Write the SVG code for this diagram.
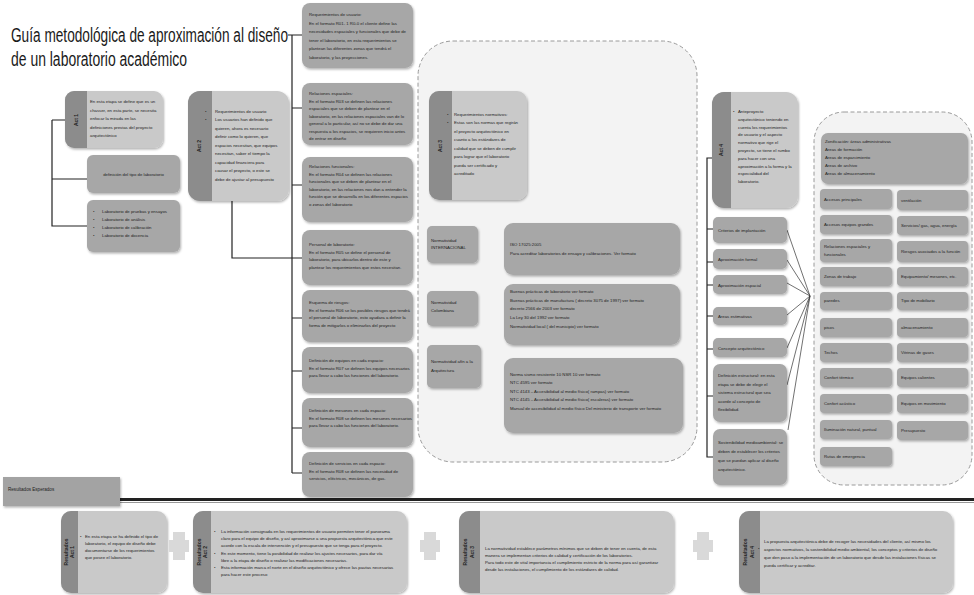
<svg xmlns="http://www.w3.org/2000/svg" width="974" height="595" viewBox="0 0 974 595">
<defs>
<filter id="sh" x="-10%" y="-10%" width="130%" height="130%"><feDropShadow dx="1" dy="1.5" stdDeviation="1.2" flood-color="#000" flood-opacity="0.3"/></filter>
</defs>
<style>
text{font-family:"Liberation Sans",Arial,sans-serif;fill:#222}
.t{font-size:4.3px}
.s{font-size:4.6px}
.lab{font-size:5px;font-weight:bold}
.title{font-size:20px;fill:#1a1a1a}
.body{fill:#c9c9c9;filter:url(#sh)}
.tab{fill:#8c8c8c}
.bx{fill:#a7a7a7;filter:url(#sh)}
.dash{fill:#f3f3f3;stroke:#9a9a9a;stroke-width:1;stroke-dasharray:4 2.5}
.ln{fill:none;stroke:#222;stroke-width:1.2}
.fan{fill:none;stroke:#333;stroke-width:0.7}
.plus{fill:#d9d9d9}
</style>
<rect width="974" height="595" fill="#fff"/>

<g id="title">
<text class="title" x="11" y="42" textLength="277" lengthAdjust="spacingAndGlyphs">Guía metodológica de aproximación al diseño</text>
<text class="title" x="11" y="66" textLength="176" lengthAdjust="spacingAndGlyphs">de un laboratorio  académico</text>
</g>

<g id="connectors">
<path class="ln" d="M52 120 H65 M52 120 V226 H87 M52 179 H87"/>
<path class="ln" d="M232 201 V258 H302"/>
<path class="ln" d="M288 35 H302 M292 35 V473 M292 108 H302 M292 185 H302 M292 318 H302 M292 371 H302 M292 428 H302 M292 473 H302"/>
<path class="ln" d="M429 146 H422 V372 H427 M422 243 H427 M422 300 H427"/>
<path class="ln" d="M712 158 H707 V457 H713 M707 229 H713 M707 262 H713 M707 285 H713 M707 316 H713 M707 349 H713 M707 396 H713"/>
<path class="fan" d="M787 230 L810 296 M787 260 L810 296 M787 283 L810 296 M787 315 L810 296 M787 348 L810 296 M787 385 L810 296 M788 430 L810 296"/>
<path d="M120 499.5 H974" stroke="#222" stroke-width="3"/>
<path d="M120 502.5 H974" stroke="#999" stroke-width="1"/>
</g>

<g id="act1">
<rect class="body" x="65" y="91" width="98" height="57" rx="9"/>
<path class="tab" d="M74 91 H87 V148 H74 A9 9 0 0 1 65 139 V100 A9 9 0 0 1 74 91 Z"/>
<text class="lab" transform="translate(78,120) rotate(-90)" text-anchor="middle">Act 1</text>
<text class="t" x="90" y="103">En esta etapa se define que es un</text>
<text class="t" x="90" y="111.5">chasser, en esta parte, se necesita</text>
<text class="t" x="90" y="120">enfocar la mirada en las</text>
<text class="t" x="90" y="128.5">definiciones previas del proyecto</text>
<text class="t" x="90" y="137">arquitectónico</text>
</g>

<g id="tipo">
<rect class="bx" x="87" y="155" width="93" height="38" rx="6"/>
<text class="t" x="133.5" y="176" text-anchor="middle">definición del tipo de laboratorio</text>
</g>

<g id="tipos-lista">
<rect class="bx" x="87" y="200" width="93" height="52" rx="6"/>
<text class="t" x="93" y="213">•</text><text class="t" x="102" y="213">Laboratorio de pruebas y ensayos</text>
<text class="t" x="93" y="221">•</text><text class="t" x="102" y="221">Laboratorio de análisis</text>
<text class="t" x="93" y="229">•</text><text class="t" x="102" y="229">Laboratorio de calibración</text>
<text class="t" x="93" y="237">•</text><text class="t" x="102" y="237">Laboratorio de docencia</text>
</g>

<g id="act2">
<rect class="body" x="188" y="91" width="101" height="110" rx="12"/>
<path class="tab" d="M200 91 H212 V201 H200 A12 12 0 0 1 188 189 V103 A12 12 0 0 1 200 91 Z"/>
<text class="lab" transform="translate(201,146) rotate(-90)" text-anchor="middle">Act 2</text>
<text class="t" x="205" y="113">•</text><text class="t" x="215" y="113">Requerimientos de usuario</text>
<text class="t" x="205" y="121">•</text><text class="t" x="215" y="121">Los usuarios han definido que</text>
<text class="t" x="215" y="129.5">quieren, ahora es necesario</text>
<text class="t" x="215" y="138">definir como lo quieren, que</text>
<text class="t" x="215" y="146.5">espacios necesitan, que equipos</text>
<text class="t" x="215" y="155">necesitan, saber el tiempo la</text>
<text class="t" x="215" y="163.5">capacidad financiera para</text>
<text class="t" x="215" y="172">causar el proyecto, o este se</text>
<text class="t" x="215" y="180.5">debe de ajustar al presupuesto</text>
</g>

<g id="req-usuario">
<rect class="bx" x="302" y="3" width="111" height="65" rx="8"/>
<text class="t" x="309" y="16">Requerimientos de usuario:</text>
<text class="t" x="309" y="24.5">En el formato R01- 1 R0-0 el cliente define las</text>
<text class="t" x="309" y="33">necesidades espaciales y funcionales que debe de</text>
<text class="t" x="309" y="41.5">tener el laboratorio, en esta requerimientos se</text>
<text class="t" x="309" y="50">plantean las diferentes zonas que tendrá el</text>
<text class="t" x="309" y="58.5">laboratorio, y las proyecciones.</text>
</g>

<g id="rel-espaciales">
<rect class="bx" x="302" y="83" width="111" height="62" rx="8"/>
<text class="t" x="309" y="95">Relaciones espaciales:</text>
<text class="t" x="309" y="102.5">En el formato R03 se definen las relaciones</text>
<text class="t" x="309" y="110">espaciales que se deben de plantear en el</text>
<text class="t" x="309" y="117.5">laboratorio, en las relaciones espaciales van de lo</text>
<text class="t" x="309" y="125">general a lo particular, así no se debe de dar una</text>
<text class="t" x="309" y="132.5">respuesta a los espacios, se requieren inicio antes</text>
<text class="t" x="309" y="140">de entrar en diseño</text>
</g>

<g id="rel-funcionales">
<rect class="bx" x="302" y="157" width="111" height="65" rx="8"/>
<text class="t" x="309" y="168">Relaciones funcionales:</text>
<text class="t" x="309" y="175.5">En el formato R04 se definen las relaciones</text>
<text class="t" x="309" y="183">funcionales que se deben de plantear en el</text>
<text class="t" x="309" y="190.5">laboratorio, en las relaciones nos dan a entender la</text>
<text class="t" x="309" y="198">función que se desarrolla en los diferentes espacios</text>
<text class="t" x="309" y="205.5">o zonas del laboratorio</text>
</g>

<g id="personal">
<rect class="bx" x="302" y="230" width="111" height="55" rx="8"/>
<text class="t" x="309" y="246">Personal de laboratorio:</text>
<text class="t" x="309" y="253.5">En el formato R05 se define el personal de</text>
<text class="t" x="309" y="261">laboratorio, para ubicarlos dentro de este y</text>
<text class="t" x="309" y="268.5">plantear los requerimientos que estos necesitan.</text>
</g>

<g id="riesgos">
<rect class="bx" x="302" y="290" width="111" height="52" rx="8"/>
<text class="t" x="309" y="304">Esquema de riesgos:</text>
<text class="t" x="309" y="311.5">En el formato R06 se los posibles riesgos que tendrá</text>
<text class="t" x="309" y="319">el personal de laboratorio, esto ayudara a definir la</text>
<text class="t" x="309" y="326.5">forma de mitigarlos o eliminarlos del proyecto</text>
</g>

<g id="equipos">
<rect class="bx" x="302" y="347" width="111" height="46" rx="8"/>
<text class="t" x="309" y="362">Definición de equipos en cada espacio:</text>
<text class="t" x="309" y="369.5">En el formato R07 se definen los equipos necesarios</text>
<text class="t" x="309" y="377">para llevar a cabo las funciones del laboratorio.</text>
</g>

<g id="mesones">
<rect class="bx" x="302" y="398" width="111" height="49" rx="8"/>
<text class="t" x="309" y="412">Definición de mesones en cada espacio:</text>
<text class="t" x="309" y="419.5">En el formato R08 se definen los mesones necesarios</text>
<text class="t" x="309" y="427">para llevar a cabo las funciones del laboratorio.</text>
</g>

<g id="servicios">
<rect class="bx" x="302" y="452" width="111" height="45" rx="8"/>
<text class="t" x="309" y="465">Definición de servicios en cada espacio:</text>
<text class="t" x="309" y="472.5">En el formato R08 se definen las necesidad de</text>
<text class="t" x="309" y="480">servicios, eléctricos, mecánicos, de gas.</text>
</g>

<g id="zona-normativa">
<rect class="dash" x="418" y="41" width="279" height="421" rx="35"/>
</g>

<g id="act3">
<rect class="body" x="429" y="91" width="98" height="109" rx="10"/>
<path class="tab" d="M439 91 H452 V200 H439 A10 10 0 0 1 429 190 V101 A10 10 0 0 1 439 91 Z"/>
<text class="lab" transform="translate(442,146) rotate(-90)" text-anchor="middle">Act 3</text>
<text class="t" x="447" y="116">•</text><text class="t" x="454" y="116">Requerimientos normativos:</text>
<text class="t" x="447" y="124">•</text><text class="t" x="454" y="124">Estas son las normas que regirán</text>
<text class="t" x="454" y="132.5">el proyecto arquitectónico en</text>
<text class="t" x="454" y="141">cuanto a los estándares de</text>
<text class="t" x="454" y="149.5">calidad que se deben de cumplir</text>
<text class="t" x="454" y="158">para lograr que el laboratorio</text>
<text class="t" x="454" y="166.5">pueda ser certificado y</text>
<text class="t" x="454" y="175">acreditado</text>
</g>

<g id="norm-internacional">
<rect class="bx" x="427" y="226" width="51" height="37" rx="5"/>
<text class="t" x="431" y="242">Normatividad</text>
<text class="t" x="431" y="249">INTERNACIONAL</text>
</g>
<g id="norm-colombiana">
<rect class="bx" x="427" y="291" width="51" height="35" rx="5"/>
<text class="t" x="431" y="304">Normatividad</text>
<text class="t" x="431" y="312">Colombiana</text>
</g>
<g id="norm-arquitectura">
<rect class="bx" x="427" y="345" width="54" height="43" rx="5"/>
<text class="t" x="431" y="363">Normatividad afín a la</text>
<text class="t" x="431" y="372">Arquitectura</text>
</g>

<g id="iso">
<rect class="bx" x="504" y="223" width="176" height="52" rx="9"/>
<text class="t" x="510" y="246">ISO 17025:2005</text>
<text class="t" x="510" y="255">Para acreditar laboratorios de ensayo y calibraciones. Ver formato</text>
</g>
<g id="colombia-normas">
<rect class="bx" x="504" y="284" width="176" height="61" rx="9"/>
<text class="t" x="510" y="293">Buenas prácticas de laboratorio ver formato</text>
<text class="t" x="510" y="302">Buenas prácticas de manufactura ( decreto 3075 de 1997) ver formato</text>
<text class="t" x="510" y="310">decreto 2566 de 2003 ver formato</text>
<text class="t" x="510" y="319">La Ley 30 del 1992 ver formato</text>
<text class="t" x="510" y="328">Normatividad local ( del municipio)  ver formato</text>
</g>
<g id="arq-normas">
<rect class="bx" x="504" y="358" width="179" height="75" rx="9"/>
<text class="t" x="510" y="376">Norma sismo resistente 10 NSR 10 ver formato</text>
<text class="t" x="510" y="384">NTC 4595 ver formato</text>
<text class="t" x="510" y="392.5">NTC 4143 – Accesibilidad al medio físico( rampas) ver formato</text>
<text class="t" x="510" y="401">NTC 4145 – Accesibilidad al medio físico( escaleras) ver formato</text>
<text class="t" x="510" y="409.5">Manual de accesibilidad al medio físico Del ministerio de transporte ver formato</text>
</g>

<g id="act4">
<rect class="body" x="712" y="92" width="86" height="116" rx="12"/>
<path class="tab" d="M724 92 H731 V208 H724 A12 12 0 0 1 712 196 V104 A12 12 0 0 1 724 92 Z"/>
<text class="lab" transform="translate(723,150) rotate(-90)" text-anchor="middle">Act 4</text>
<text class="t" x="733" y="113">•</text>
<text class="t" x="738" y="113">Anteproyecto</text>
<text class="t" x="738" y="120.8">arquitectónico teniendo en</text>
<text class="t" x="738" y="128.6">cuenta los requerimientos</text>
<text class="t" x="738" y="136.4">de usuario y el aspecto</text>
<text class="t" x="738" y="144.2">normativo que rige el</text>
<text class="t" x="738" y="152">proyecto, se tiene el rumbo</text>
<text class="t" x="738" y="159.8">para hacer con una</text>
<text class="t" x="738" y="167.6">aproximación a la forma y la</text>
<text class="t" x="738" y="175.4">especialidad del</text>
<text class="t" x="738" y="183.2">laboratorio.</text>
</g>

<g id="criterios"><rect class="bx" x="713" y="217" width="74" height="26" rx="5"/><text class="t" x="718" y="232">Criterios de implantación</text></g>
<g id="aprox-formal"><rect class="bx" x="713" y="249" width="74" height="20" rx="5"/><text class="t" x="718" y="261">Aproximación formal</text></g>
<g id="aprox-espacial"><rect class="bx" x="713" y="275" width="74" height="19" rx="5"/><text class="t" x="718" y="287">Aproximación espacial</text></g>
<g id="areas"><rect class="bx" x="713" y="307" width="74" height="18" rx="5"/><text class="t" x="718" y="318">Áreas estimativas</text></g>
<g id="concepto"><rect class="bx" x="713" y="338" width="74" height="19" rx="5"/><text class="t" x="718" y="350">Concepto arquitectónico</text></g>
<g id="estructural">
<rect class="bx" x="713" y="364" width="74" height="58" rx="7"/>
<text class="t" x="718" y="377">Definición estructural: en esta</text>
<text class="t" x="718" y="385.5">etapa se debe de elegir el</text>
<text class="t" x="718" y="394">sistema estructural que sea</text>
<text class="t" x="718" y="402.5">acorde al concepto de</text>
<text class="t" x="718" y="411">flexibilidad.</text>
</g>
<g id="sostenibilidad">
<rect class="bx" x="713" y="429" width="74" height="56" rx="7"/>
<text class="t" x="718" y="444">Sostenibilidad medioambiental: se</text>
<text class="t" x="718" y="453">deben de establecer los criterios</text>
<text class="t" x="718" y="462">que se puedan aplicar al diseño</text>
<text class="t" x="718" y="471">arquitectónico.</text>
</g>

<g id="zona-criterios">
<rect class="dash" x="814" y="112" width="158" height="373" rx="30"/>
</g>
<g id="zonificacion">
<rect class="bx" x="821" y="133" width="147" height="51" rx="7"/>
<text class="t" x="825" y="143">Zonificación: áreas administrativas</text>
<text class="t" x="825" y="151">Áreas de formación</text>
<text class="t" x="825" y="159">Áreas de esparcimiento</text>
<text class="t" x="825" y="167">Áreas de archivo</text>
<text class="t" x="825" y="175">Áreas de almacenamiento</text>
</g>
<g id="grid">
<rect class="bx" x="820" y="189" width="72" height="20" rx="4"/><text class="t" x="824" y="201">Accesos principales</text>
<rect class="bx" x="897" y="190" width="71" height="20" rx="4"/><text class="t" x="901" y="202">ventilación</text>
<rect class="bx" x="820" y="215" width="72" height="19" rx="4"/><text class="t" x="824" y="226">Accesos equipos grandes</text>
<rect class="bx" x="897" y="216" width="71" height="19" rx="4"/><text class="t" x="901" y="227">Servicios/ gas, agua, energía</text>
<rect class="bx" x="820" y="239" width="72" height="23" rx="4"/><text class="t" x="824" y="248">Relaciones espaciales y</text><text class="t" x="824" y="256">funcionales</text>
<rect class="bx" x="897" y="241" width="71" height="21" rx="4"/><text class="t" x="901" y="253">Riesgos asociados a la función</text>
<rect class="bx" x="820" y="267" width="72" height="19" rx="4"/><text class="t" x="824" y="278">Zonas de trabajo</text>
<rect class="bx" x="897" y="267" width="71" height="19" rx="4"/><text class="t" x="901" y="278">Equipamiento/ mesones, etc.</text>
<rect class="bx" x="820" y="292" width="72" height="18" rx="4"/><text class="t" x="824" y="302">paredes</text>
<rect class="bx" x="897" y="292" width="71" height="18" rx="4"/><text class="t" x="901" y="302">Tipo de mobiliario</text>
<rect class="bx" x="820" y="318" width="72" height="19" rx="4"/><text class="t" x="824" y="329">pisos</text>
<rect class="bx" x="897" y="318" width="71" height="19" rx="4"/><text class="t" x="901" y="329">almacenamiento</text>
<rect class="bx" x="820" y="343" width="72" height="19" rx="4"/><text class="t" x="824" y="354">Techos</text>
<rect class="bx" x="897" y="343" width="71" height="19" rx="4"/><text class="t" x="901" y="354">Vitrinas de gases</text>
<rect class="bx" x="820" y="368" width="72" height="19" rx="4"/><text class="t" x="824" y="379">Confort térmico</text>
<rect class="bx" x="897" y="368" width="71" height="19" rx="4"/><text class="t" x="901" y="379">Equipos calientes</text>
<rect class="bx" x="820" y="394" width="72" height="19" rx="4"/><text class="t" x="824" y="405">Confort acústico</text>
<rect class="bx" x="897" y="394" width="71" height="19" rx="4"/><text class="t" x="901" y="405">Equipos en movimiento</text>
<rect class="bx" x="820" y="420" width="72" height="19" rx="4"/><text class="t" x="824" y="431">Iluminación natural, puntual</text>
<rect class="bx" x="897" y="421" width="71" height="19" rx="4"/><text class="t" x="901" y="432">Presupuesto</text>
<rect class="bx" x="820" y="447" width="72" height="19" rx="4"/><text class="t" x="824" y="458">Rutas de emergencia</text>
</g>

<g id="resultados-label">
<rect x="3" y="477" width="117" height="29" fill="#a3a3a3" filter="url(#sh)"/>
<text class="s" x="8" y="491">Resultados Esperados</text>
</g>

<g id="res1">
<rect class="body" x="61" y="511" width="106" height="82" rx="10"/>
<path class="tab" d="M71 511 H78 V593 H71 A10 10 0 0 1 61 583 V521 A10 10 0 0 1 71 511 Z"/>
<text class="lab" transform="translate(68,552) rotate(-90)" text-anchor="middle">Resultados</text>
<text class="lab" transform="translate(74,552) rotate(-90)" text-anchor="middle">Act 1</text>
<text class="t" x="80" y="538">•</text>
<text class="t" x="85" y="538">En esta etapa se ha definido el tipo de</text>
<text class="t" x="85" y="545">laboratorio, el equipo de diseño debe</text>
<text class="t" x="85" y="552">documentarse de los requerimientos</text>
<text class="t" x="85" y="559">que posee el laboratorio.</text>
</g>
<g id="plus1" class="plus"><rect x="173" y="532" width="12" height="28"/><rect x="169" y="540" width="20" height="12"/></g>

<g id="res2">
<rect class="body" x="193" y="511" width="214" height="82" rx="10"/>
<path class="tab" d="M203 511 H211 V593 H203 A10 10 0 0 1 193 583 V521 A10 10 0 0 1 203 511 Z"/>
<text class="lab" transform="translate(201,552) rotate(-90)" text-anchor="middle">Resultados</text>
<text class="lab" transform="translate(207,552) rotate(-90)" text-anchor="middle">Act 2</text>
<text class="t" x="214" y="533">•</text><text class="t" x="221" y="533">La información consignada en los requerimientos de usuario permiten tener el panorama</text>
<text class="t" x="221" y="540">claro para el equipo de diseño, y así aproximarse a una propuesta arquitectónica que este</text>
<text class="t" x="221" y="547">acorde con la escala de intervención y el presupuesto que se tenga para el proyecto.</text>
<text class="t" x="214" y="554.5">•</text><text class="t" x="221" y="554.5">En este momento, tiene la posibilidad de realizar los ajustes necesarios, para dar vía</text>
<text class="t" x="221" y="561.5">libre a la etapa de diseño o realizar las modificaciones necesarias.</text>
<text class="t" x="214" y="569">•</text><text class="t" x="221" y="569">Esta información marca el norte en el diseño arquitectónico y ofrece las pautas necesarias</text>
<text class="t" x="221" y="576">para hacer este proceso</text>
</g>
<g id="plus2" class="plus"><rect x="424" y="532" width="12" height="28"/><rect x="420" y="540" width="20" height="12"/></g>

<g id="res3">
<rect class="body" x="459" y="511" width="215" height="82" rx="10"/>
<path class="tab" d="M469 511 H480 V593 H469 A10 10 0 0 1 459 583 V521 A10 10 0 0 1 469 511 Z"/>
<text class="lab" transform="translate(467,552) rotate(-90)" text-anchor="middle">Resultados</text>
<text class="lab" transform="translate(474,552) rotate(-90)" text-anchor="middle">Act 3</text>
<text class="t" x="485" y="550">La normatividad establece parámetros mínimos que se deben de tener en cuenta, de esta</text>
<text class="t" x="485" y="557">manera se implementan criterios de calidad y certificación de los laboratorios.</text>
<text class="t" x="485" y="564">Para todo este de vital importancia el cumplimiento estricto de la norma para así garantizar</text>
<text class="t" x="485" y="571">desde las instalaciones, el cumplimiento de los estándares de calidad.</text>
</g>
<g id="plus3" class="plus"><rect x="697" y="532" width="12" height="28"/><rect x="693" y="540" width="20" height="12"/></g>

<g id="res4">
<rect class="body" x="739" y="511" width="214" height="82" rx="10"/>
<path class="tab" d="M749 511 H760 V593 H749 A10 10 0 0 1 739 583 V521 A10 10 0 0 1 749 511 Z"/>
<text class="lab" transform="translate(747,552) rotate(-90)" text-anchor="middle">Resultados</text>
<text class="lab" transform="translate(754,552) rotate(-90)" text-anchor="middle">Act 4</text>
<text class="t" x="758" y="550">•</text>
<text class="t" x="764" y="543">La propuesta arquitectónica debe de recoger las necesidades del cliente, así mismo los</text>
<text class="t" x="764" y="551">aspectos normativos, la sostenibilidad medio ambiental, los conceptos y criterios de diseño</text>
<text class="t" x="764" y="559">que den paso a la implementación de un laboratorio que desde las instalaciones físicas se</text>
<text class="t" x="764" y="567">pueda certificar y acreditar.</text>
</g>
</svg>
